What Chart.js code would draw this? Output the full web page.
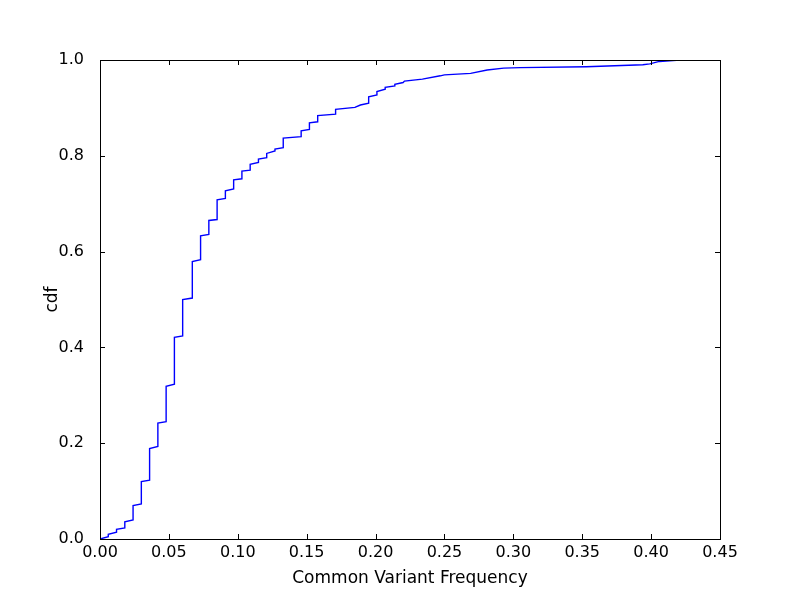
<!DOCTYPE html>
<html>
<head>
<meta charset="utf-8">
<script src="https://cdn.jsdelivr.net/npm/chart.js@4/dist/chart.umd.min.js"></script>
<style>
  html, body { margin: 0; padding: 0; background: #fff; }
  #wrap { width: 800px; height: 600px; }
</style>
</head>
<body>
<div id="wrap"><canvas id="cdfChart" width="800" height="600"></canvas></div>
<script>
// vertices of the cdf curve (frequency, cumulative fraction)
const freqs = [
  0.000, 0.006, 0.006, 0.012, 0.012, 0.018, 0.018, 0.024, 0.024, 0.030,
  0.030, 0.036, 0.036, 0.042, 0.042, 0.048, 0.048, 0.054, 0.054, 0.060,
  0.060, 0.067, 0.067, 0.073, 0.073, 0.079, 0.079, 0.085, 0.085, 0.091,
  0.091, 0.097, 0.097, 0.103, 0.103, 0.109, 0.109, 0.115, 0.115, 0.121,
  0.121, 0.127, 0.127, 0.133, 0.133, 0.146, 0.146, 0.152, 0.152, 0.158,
  0.158, 0.171, 0.171, 0.185, 0.189, 0.195, 0.195, 0.201, 0.201, 0.207,
  0.207, 0.214, 0.214, 0.220, 0.221, 0.234, 0.247, 0.250, 0.269, 0.281,
  0.293, 0.305, 0.353, 0.394, 0.399, 0.406, 0.416, 0.421
];
const cdfs = [
  0.000, 0.005, 0.010, 0.014, 0.020, 0.023, 0.036, 0.040, 0.070, 0.073,
  0.120, 0.123, 0.189, 0.193, 0.242, 0.245, 0.319, 0.323, 0.421, 0.424,
  0.500, 0.503, 0.579, 0.583, 0.633, 0.636, 0.665, 0.667, 0.708, 0.711,
  0.727, 0.731, 0.750, 0.752, 0.768, 0.770, 0.782, 0.786, 0.793, 0.796,
  0.805, 0.810, 0.814, 0.817, 0.837, 0.840, 0.852, 0.855, 0.869, 0.871,
  0.884, 0.887, 0.897, 0.901, 0.906, 0.910, 0.923, 0.927, 0.934, 0.939,
  0.943, 0.946, 0.949, 0.953, 0.956, 0.960, 0.967, 0.969, 0.972, 0.979,
  0.983, 0.984, 0.986, 0.990, 0.992, 0.997, 0.999, 1.000
];

const xTicks = [0.00, 0.05, 0.10, 0.15, 0.20, 0.25, 0.30, 0.35, 0.40, 0.45];
const yTicks = [0.0, 0.2, 0.4, 0.6, 0.8, 1.0];

const font = { family: "'DejaVu Sans', sans-serif", size: 16 };
const titleFont = { family: "'DejaVu Sans', sans-serif", size: 17 };

// matplotlib style frame with inward ticks on all four sides
const framePlugin = {
  id: "frame",
  afterDatasetsDraw(chart) {
    const ctx = chart.ctx;
    const a = chart.chartArea;
    const xs = chart.scales.x, ys = chart.scales.y;
    const len = 5;
    ctx.save();
    ctx.strokeStyle = "#000";
    ctx.lineWidth = 1;
    ctx.beginPath();
    xTicks.forEach(v => {
      const px = Math.round(xs.getPixelForValue(v)) + 0.5;
      ctx.moveTo(px, a.bottom); ctx.lineTo(px, a.bottom - len);
      ctx.moveTo(px, a.top); ctx.lineTo(px, a.top + len);
    });
    yTicks.forEach(v => {
      const py = Math.round(ys.getPixelForValue(v)) + 0.5;
      ctx.moveTo(a.left, py); ctx.lineTo(a.left + len, py);
      ctx.moveTo(a.right, py); ctx.lineTo(a.right - len, py);
    });
    ctx.stroke();
    ctx.strokeRect(a.left + 0.5, a.top + 0.5, a.right - a.left, a.bottom - a.top);
    ctx.restore();
  }
};

const ctx = document.getElementById("cdfChart").getContext("2d");
new Chart(ctx, {
  type: "line",
  data: {
    datasets: [{
      data: freqs.map((f, i) => ({ x: f, y: cdfs[i] })),
      borderColor: "#0000ff",
      borderWidth: 1.4,
      pointRadius: 0,
      tension: 0,
      fill: false
    }]
  },
  options: {
    responsive: false,
    animation: false,
    layout: { padding: { left: 0, right: 80, top: 60, bottom: 0 } },
    plugins: { legend: { display: false }, tooltip: { enabled: false } },
    scales: {
      x: {
        type: "linear",
        min: 0, max: 0.45,
        afterFit: s => { s.height = 61; },
        afterBuildTicks: s => { s.ticks = xTicks.map(v => ({ value: v })); },
        grid: { display: false },
        border: { display: false },
        ticks: { color: "#000", font: font, padding: -4, maxRotation: 0, callback: v => v.toFixed(2) },
        title: { display: true, text: "Common Variant Frequency", color: "#000", font: titleFont, padding: { top: 4, bottom: 11 } }
      },
      y: {
        type: "linear",
        min: 0, max: 1,
        afterFit: s => { s.width = 100; },
        afterBuildTicks: s => { s.ticks = yTicks.map(v => ({ value: v })); },
        grid: { display: false },
        border: { display: false },
        ticks: { color: "#000", font: font, padding: 8, callback: v => v.toFixed(1) },
        title: { display: true, text: "cdf", color: "#000", font: titleFont, padding: { top: 42, bottom: 0 } }
      }
    }
  },
  plugins: [framePlugin]
});
</script>
</body>
</html>
